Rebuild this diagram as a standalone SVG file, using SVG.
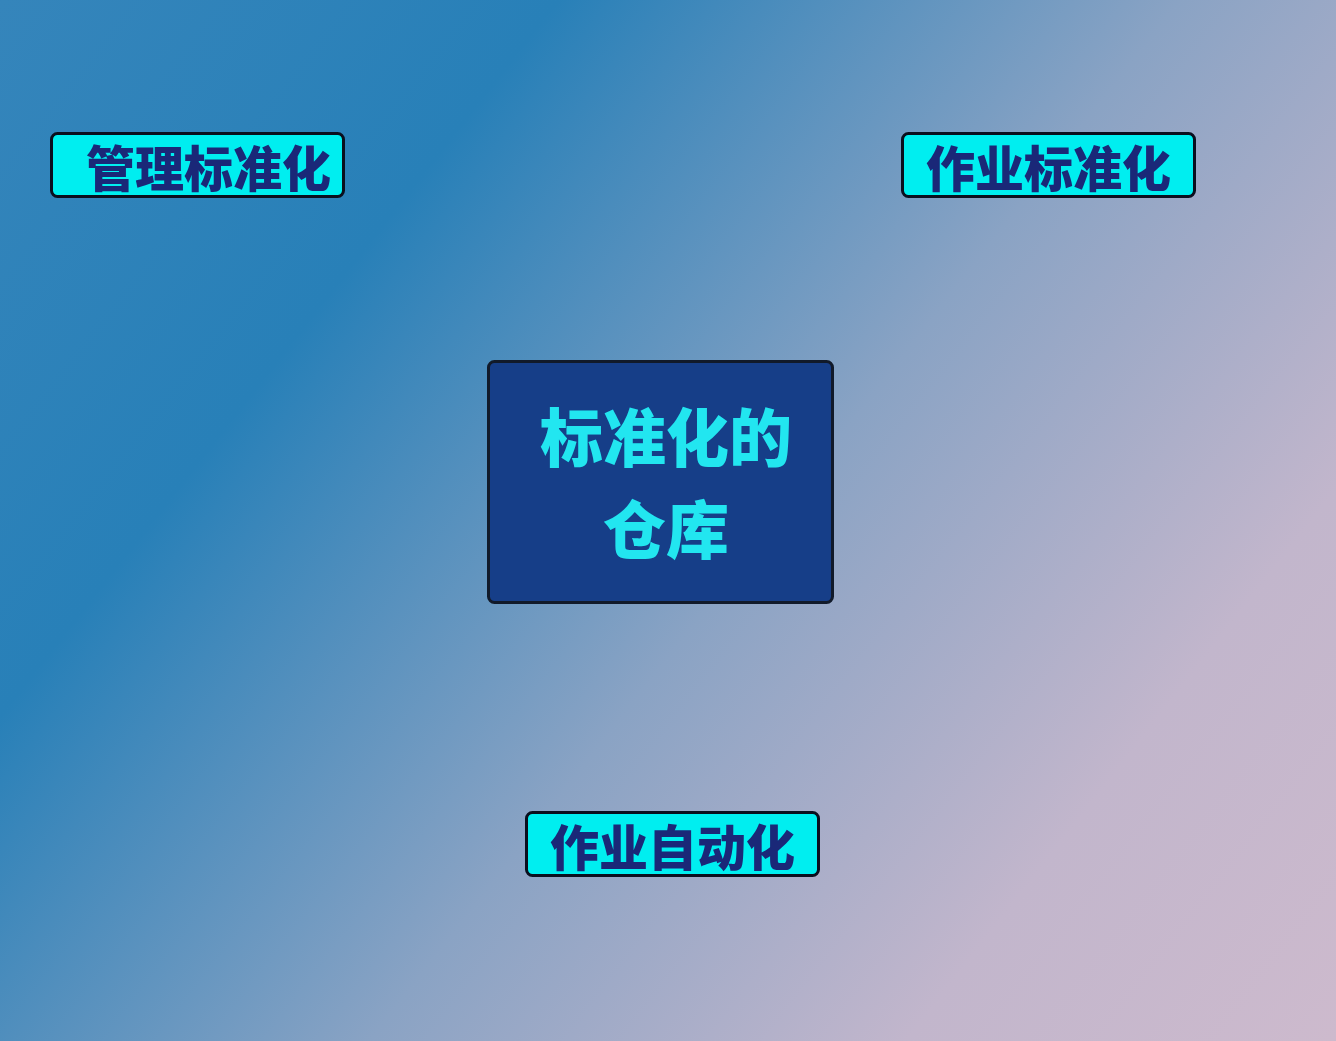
<svg xmlns="http://www.w3.org/2000/svg" width="1336" height="1041" viewBox="0 0 1336 1041">
<defs>
<linearGradient id="bg" x1="0" y1="0" x2="1336" y2="1041" gradientUnits="userSpaceOnUse">
<stop offset="0" stop-color="#3585bb"/>
<stop offset="0.26" stop-color="#2880b8"/>
<stop offset="0.55" stop-color="#8aa3c4"/>
<stop offset="0.8" stop-color="#c2b6cc"/>
<stop offset="1" stop-color="#cdbacd"/>
</linearGradient>
</defs>
<style>
.tag rect{fill:#00eef0;stroke:#0a0f1e;stroke-width:3}
.tag text{fill:#1a2878;font-family:"Noto Sans CJK SC","Noto Sans",sans-serif;font-weight:900;font-size:49px}
.core rect{fill:#163e88;stroke:#111a2a;stroke-width:3}
.core text{fill:#22e6f0;font-family:"Noto Sans CJK SC","Noto Sans",sans-serif;font-weight:900;font-size:63px;text-anchor:middle}
</style>
<rect width="1336" height="1041" fill="url(#bg)"/>
<g id="core" class="core">
<rect x="488.5" y="361.5" width="344" height="241" rx="6"/>
<text x="666" y="461">标准化的</text>
<text x="666" y="553">仓库</text>
</g>
<g id="n1" class="tag">
<rect x="51.5" y="133.5" width="292" height="63" rx="6"/>
<text x="86" y="187">管理标准化</text>
</g>
<g id="n2" class="tag">
<rect x="902.5" y="133.5" width="292" height="63" rx="6"/>
<text x="926" y="187">作业标准化</text>
</g>
<g id="n3" class="tag">
<rect x="526.5" y="812.5" width="292" height="63" rx="6"/>
<text x="550" y="866">作业自动化</text>
</g>
<g id="connectors"/>
</svg>
